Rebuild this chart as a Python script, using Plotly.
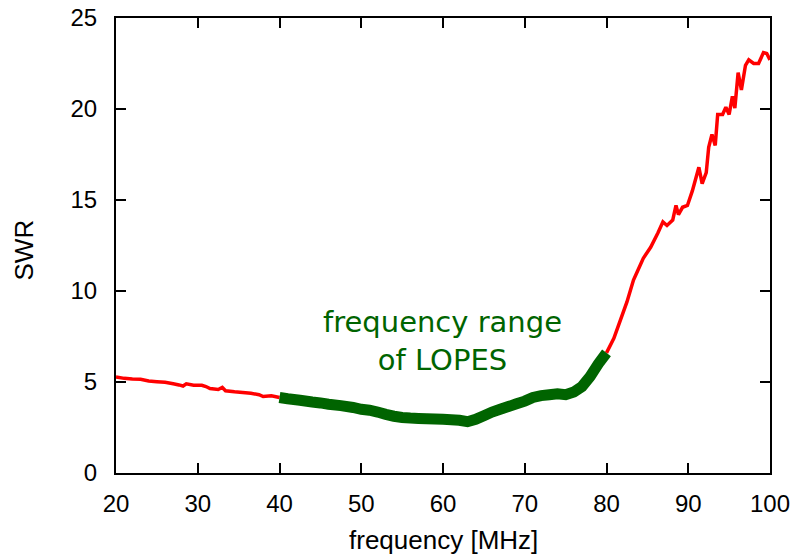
import plotly.graph_objects as go

# Data
freq_low = [20, 21, 22, 23, 24, 25, 26, 27, 27.7, 28.2, 28.6, 29.5, 30.5, 31.0, 31.5, 32.5, 33.0, 33.4, 34.5, 35.5, 36.5, 37.5, 38, 39, 40]
swr_low = [5.27, 5.2, 5.16, 5.15, 5.06, 5.02, 4.98, 4.9, 4.84, 4.78, 4.9, 4.82, 4.82, 4.75, 4.64, 4.59, 4.7, 4.52, 4.46, 4.42, 4.38, 4.3, 4.2, 4.24, 4.15]

freq_mid = [40, 41, 42.5, 44, 45, 46, 47.5, 49, 50, 51, 52, 53, 54, 55, 56, 57, 58, 60, 61, 62, 63, 64, 65, 66, 67, 68, 69, 70, 71, 72, 73, 74, 75, 76, 77, 78, 79, 80]
swr_mid = [4.15, 4.08, 4.0, 3.9, 3.85, 3.78, 3.7, 3.6, 3.5, 3.45, 3.35, 3.22, 3.12, 3.05, 3.02, 3.0, 2.98, 2.95, 2.93, 2.9, 2.82, 2.95, 3.15, 3.35, 3.5, 3.65, 3.8, 3.95, 4.15, 4.25, 4.3, 4.35, 4.3, 4.45, 4.75, 5.3, 6.0, 6.6]

freq_high = [80, 80.9, 81.7, 82.5, 83.3, 83.8, 84.5, 85.4, 86.3, 86.9, 87.4, 88.1, 88.5, 88.8, 89.3, 89.9, 90.5, 91.3, 91.7, 92.2, 92.5, 92.9, 93.3, 93.6, 94.2, 94.6, 95.0, 95.4, 95.7, 96.1, 96.5, 97.0, 97.4, 98.0, 98.6, 99.2, 99.6, 100]
swr_high = [6.6, 7.4, 8.4, 9.4, 10.6, 11.1, 11.8, 12.4, 13.2, 13.8, 13.6, 13.9, 14.7, 14.2, 14.6, 14.7, 15.5, 16.8, 15.9, 16.5, 17.9, 18.6, 18.0, 19.7, 19.7, 20.1, 19.7, 20.7, 20.05, 22.0, 21.05, 22.4, 22.7, 22.5, 22.5, 23.1, 23.05, 22.7]

x_ticks = [20, 30, 40, 50, 60, 70, 80, 90, 100]
y_ticks = [0, 5, 10, 15, 20, 25]

RED = "#ff0000"
GREEN = "#006400"

fig = go.Figure()
fig.add_trace(go.Scatter(x=freq_low, y=swr_low, mode="lines",
                         line=dict(color=RED, width=3.5, simplify=False), showlegend=False))
fig.add_trace(go.Scatter(x=freq_high, y=swr_high, mode="lines",
                         line=dict(color=RED, width=3.5, simplify=False), showlegend=False))
fig.add_trace(go.Scatter(x=freq_mid, y=swr_mid, mode="lines",
                         line=dict(color=GREEN, width=11, simplify=False), showlegend=False))

tickfont = dict(family="Liberation Sans, Arial, sans-serif", size=24, color="black")
titlefont = dict(family="Liberation Sans, Arial, sans-serif", size=26, color="black")
axis_common = dict(
    showgrid=False, zeroline=False, showline=True, linecolor="black", linewidth=2,
    mirror="ticks", ticks="inside", ticklen=10, tickwidth=1.5, tickcolor="black",
    tickfont=tickfont, automargin=False,
)

fig.update_xaxes(range=[20, 100], tickvals=x_ticks, ticktext=[str(v) for v in x_ticks],
                 ticklabelstandoff=8, **axis_common)
fig.update_yaxes(range=[0, 25], tickvals=y_ticks, ticktext=[str(v) for v in y_ticks],
                 ticklabelstandoff=12, **axis_common)

fig.add_annotation(x=59.9, y=7.25, xref="x", yref="y", text="frequency range<br>of LOPES",
                   showarrow=False, font=dict(family="DejaVu Sans", size=29, color=GREEN),
                   align="center")

fig.add_annotation(x=0.5, y=-0.148, xref="paper", yref="paper", text="frequency [MHz]",
                   showarrow=False, font=titlefont, xanchor="center", yanchor="middle")
fig.add_annotation(x=-0.14, y=0.49, xref="paper", yref="paper", text="SWR", textangle=-90,
                   showarrow=False, font=titlefont, xanchor="center", yanchor="middle")

fig.update_layout(
    width=797, height=556,
    margin=dict(l=116, r=27, t=18, b=83),
    plot_bgcolor="white", paper_bgcolor="white",
)

fig.write_html("out.html")
